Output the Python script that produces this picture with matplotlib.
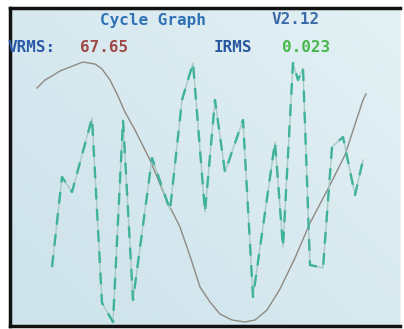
import numpy as np
from matplotlib import pyplot as plt

# samples (x = time step, y = level)
volt_t = [27, 35, 42, 50, 60, 73, 85, 92, 100, 107, 115, 125, 140, 157, 170, 180, 190, 200, 210, 222, 235, 245, 257, 270, 285, 300, 320, 335, 353, 356]
volt_v = [238, 246, 250, 255, 259, 264, 262, 257, 246, 232, 214, 196, 166, 125, 99, 70, 39, 24, 12, 6, 4, 6, 16, 37, 68, 103, 141, 171, 226, 232]

curr_t = [42, 52, 62, 82, 92, 103, 113, 123, 142, 160, 172, 183, 195, 205, 215, 233, 243, 265, 273, 283, 288, 293, 300, 313, 322, 333, 345, 353]
curr_v = [59, 149, 134, 208, 23, 4, 206, 26, 168, 116, 226, 263, 114, 226, 154, 206, 29, 184, 79, 263, 246, 258, 61, 58, 179, 189, 131, 166]

title = "Cycle Graph"
version = "V2.12"
vrms = "67.65"
irms = "0.023"


def main():
    fig = plt.figure(figsize=(4.04, 3.29), dpi=100)
    fig.patch.set_facecolor('white')
    ax = fig.add_axes([10 / 404, 3 / 329, 390 / 404, 318 / 329])

    # screen background, slightly brighter towards bottom right
    gx, gy = np.meshgrid(np.linspace(0, 1, 64), np.linspace(0, 1, 64))
    g = 0.55 * gx + 0.45 * (1 - gy)
    ax.imshow(g, extent=(0, 390, 0, 318), origin='upper', cmap=plt.cm.colors.LinearSegmentedColormap.from_list(
        'lcd', ['#cde2eb', '#e3f1f4']), aspect='auto', zorder=0)

    ax.plot(volt_t, volt_v, color='#8e8a82', lw=1.0, zorder=2)
    ax.plot(curr_t, curr_v, color='#a9c9c4', lw=1.0, zorder=3)
    ax.plot(curr_t, curr_v, color='#3fb39a', lw=1.7, dashes=(5, 4), zorder=4)

    ax.set_xlim(0, 390)
    ax.set_ylim(0, 318)
    ax.set_xticks([])
    ax.set_yticks([])
    for s in ('left', 'top', 'bottom'):
        ax.spines[s].set_color('#111111')
        ax.spines[s].set_linewidth(2.5)
    ax.spines['right'].set_color('#e8f0f2')

    font = dict(family='DejaVu Sans Mono', fontweight='bold', fontsize=11.5,
                ha='left', va='center', transform=ax.transData)
    ax.text(90, 306, title, color='#2f72b5', **font)
    ax.text(262, 306, version, color='#3a6aa8', **font)
    ax.text(-2, 278, "VRMS:", color='#2a5aa8', **font)
    ax.text(70, 278, vrms, color='#a04a48', **font)
    ax.text(204, 278, "IRMS", color='#2a58a0', **font)
    ax.text(272, 278, irms, color='#46b84a', **font)

    fig.savefig('out.png', dpi=100)


if __name__ == '__main__':
    main()
